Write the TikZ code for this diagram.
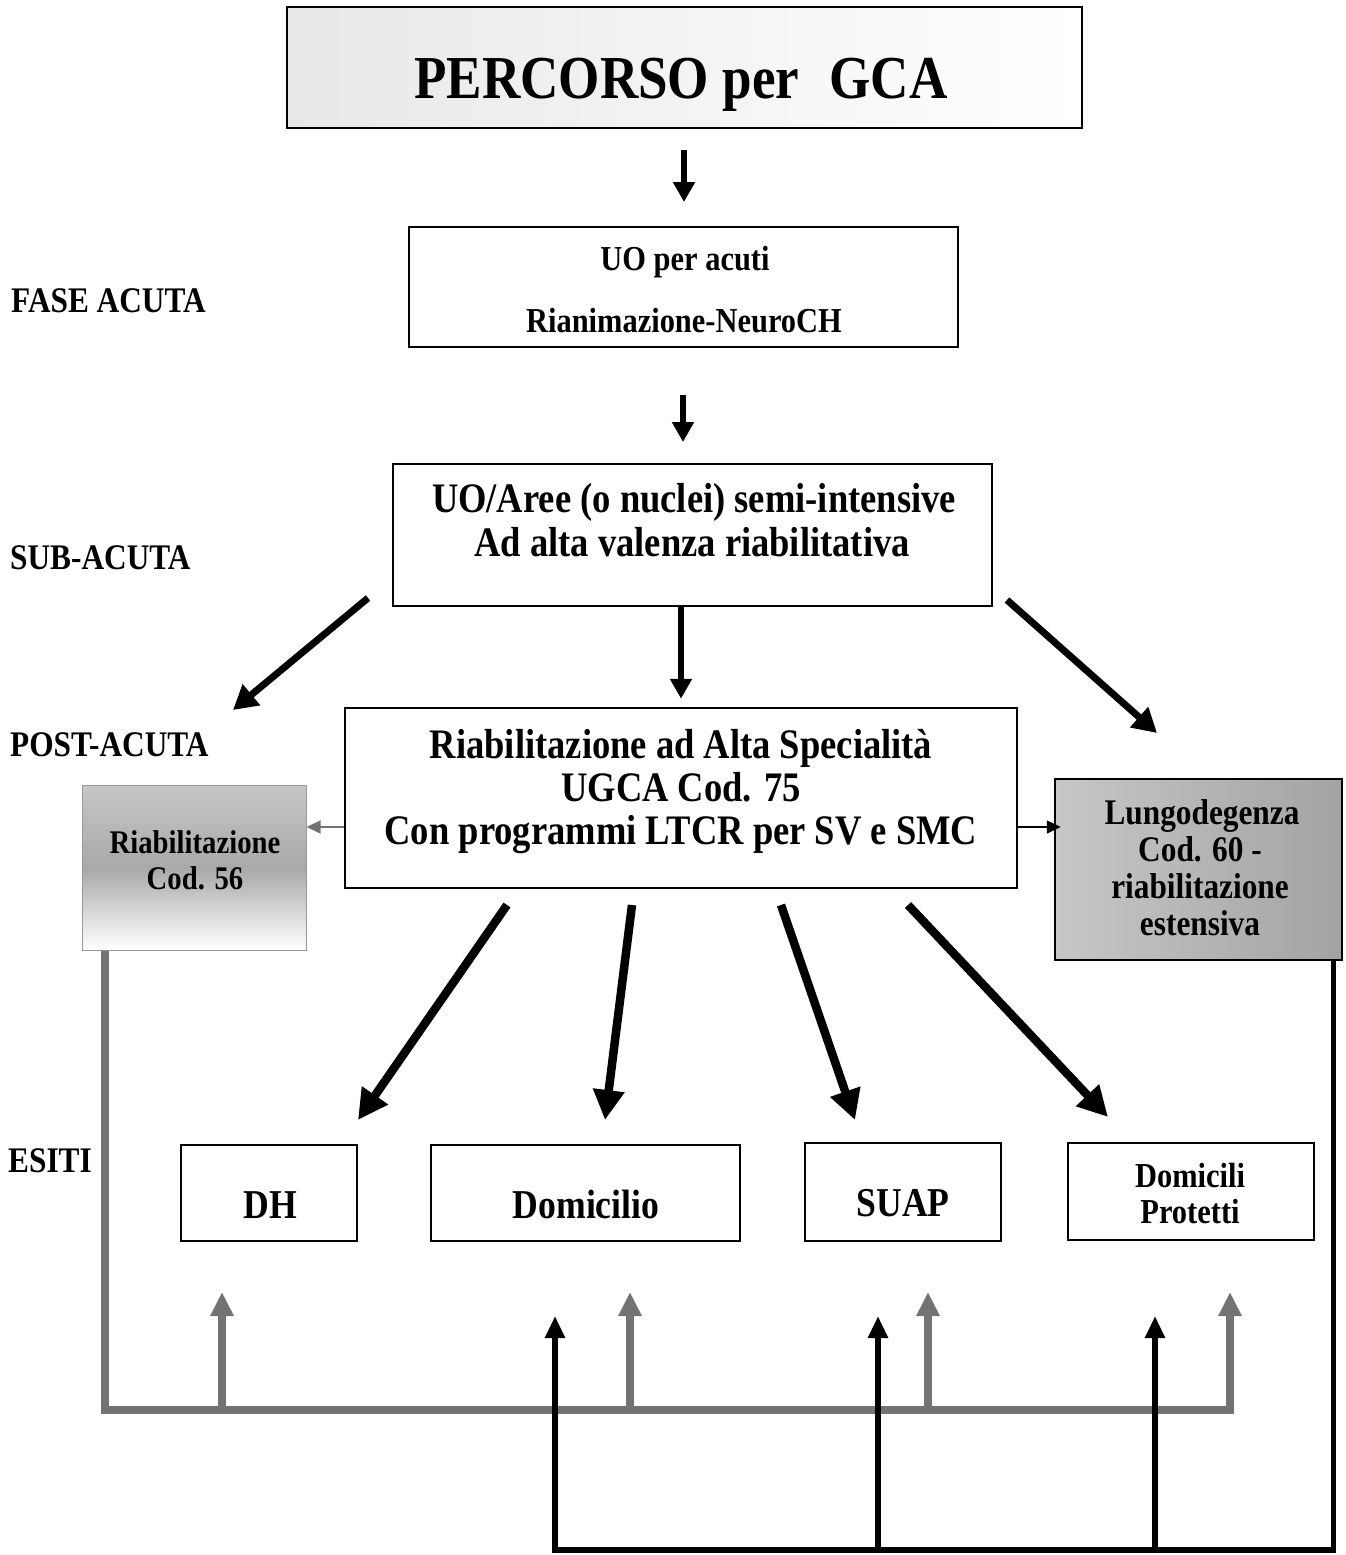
\documentclass[tikz,border=0pt]{standalone}
\usepackage{fontspec}
\setmainfont[FakeStretch=0.87]{Liberation Serif}
\usetikzlibrary{arrows.meta}
\tikzset{
  box/.style={draw=black, line width=2.5pt, fill=white, inner sep=0pt},
  txt/.style={anchor=base, inner sep=0pt, font=\fontsize{#1}{#1}\selectfont\bfseries},
  toparrow/.style={line width=6pt, -{Triangle[length=20pt,width=21pt]}},
  diagarrow/.style={line width=7pt, -{Triangle[length=24pt,width=26pt]}},
  esitoarrow/.style={line width=8.5pt, -{Triangle[length=30pt,width=30pt]}},
  thinarrow/.style={line width=1.5pt, -{Triangle[length=14pt,width=13pt]}},
  gline/.style={draw=black!55, line width=8pt},
  gtip/.style={gline, -{Triangle[length=24pt,width=22pt]}},
  bline/.style={draw=black, line width=5.5pt},
  btip/.style={bline, -{Triangle[length=22pt,width=19pt]}},
}
\begin{document}
\begin{tikzpicture}[x=1pt,y=-1pt]
\useasboundingbox (0,0) rectangle (1346,1555);

% ---- boxes ----
\node[box, line width=2pt, left color=black!9, right color=white, minimum width=795, minimum height=121] (title) at (684.5,67.5) {};
\node[box, minimum width=549, minimum height=120] (uo) at (683.5,287) {};
\node[box, minimum width=599, minimum height=142] (semi) at (692.5,535) {};
\node[box, minimum width=672, minimum height=180] (ria) at (681,798) {};
\node[box, draw=black!40, line width=1pt, top color=black!22, bottom color=white, middle color=black!34, minimum width=224, minimum height=165] (cod) at (194,867.5) {};
\node[box, left color=black!22, right color=black!36, minimum width=287, minimum height=181] (lungo) at (1198.5,869.5) {};
\node[box, minimum width=176, minimum height=96] (dh) at (269,1193) {};
\node[box, minimum width=309, minimum height=96] (dom) at (585.5,1193) {};
\node[box, minimum width=196, minimum height=98] (suap) at (903,1192) {};
\node[box, minimum width=246, minimum height=97] (dp) at (1191,1191.5) {};

% ---- texts ----
\node[txt=61] (t-title) at (681,98) {PERCORSO per\hspace{0.5em}GCA};
\node[txt=35] (t-uo1) at (685,270) {UO per acuti};
\node[txt=35] (t-uo2) at (684,332) {Rianimazione-NeuroCH};
\node[txt=42] (t-semi1) at (694,512) {UO/Aree (o nuclei) semi-intensive};
\node[txt=42] (t-semi2) at (692,556) {Ad alta valenza riabilitativa};
\node[txt=42] (t-ria1) at (681,758) {Riabilitazione ad Alta Specialità};
\node[txt=42] (t-ria2) at (681,801) {UGCA Cod. 75};
\node[txt=42] (t-ria3) at (681,844) {Con programmi LTCR per SV e SMC};
\node[txt=33] (t-cod1) at (195,853) {Riabilitazione};
\node[txt=33] (t-cod2) at (195,889) {Cod. 56};
\node[txt=36] (t-lu1) at (1202,824) {Lungodegenza};
\node[txt=36] (t-lu2) at (1200,861) {Cod. 60 -};
\node[txt=36] (t-lu3) at (1200,898) {riabilitazione};
\node[txt=36] (t-lu4) at (1200,935) {estensiva};
\node[txt=41] (t-dh) at (270,1218) {DH};
\node[txt=41] (t-dom) at (586,1218) {Domicilio};
\node[txt=41] (t-suap) at (903,1216) {SUAP};
\node[txt=35] (t-dp1) at (1190,1187) {Domicili};
\node[txt=35] (t-dp2) at (1190,1223) {Protetti};

% ---- phase labels ----
\node[txt=36, anchor=base west] (l-acuta) at (11,312) {FASE ACUTA};
\node[txt=36, anchor=base west] (l-sub) at (10,569) {SUB-ACUTA};
\node[txt=36, anchor=base west] (l-post) at (10,756) {POST-ACUTA};
\node[txt=36, anchor=base west] (l-esiti) at (8,1172) {ESITI};

% ---- free ends ----
\coordinate (a1s) at (684,150);  \coordinate (a1e) at (684,202);
\coordinate (a2s) at (683,395);  \coordinate (a2e) at (683,442);
\coordinate (dls) at (368,598);  \coordinate (dle) at (233,710);
\coordinate (drs) at (1007,600); \coordinate (dre) at (1157,733);
\coordinate (e1s) at (507,905);  \coordinate (e1) at (358,1120);
\coordinate (e2s) at (632,905);  \coordinate (e2) at (605,1120);
\coordinate (e3s) at (781,905);  \coordinate (e3) at (855,1120);
\coordinate (e4s) at (908,905);  \coordinate (e4) at (1108,1117);
\coordinate (gbus) at (0,1410);
\coordinate (gA) at (222,1292); \coordinate (gB) at (630,1292);
\coordinate (gC) at (928,1292); \coordinate (gD) at (1230,1292);
\coordinate (bbus) at (0,1550);
\coordinate (bA) at (555,1316); \coordinate (bB) at (878,1316);
\coordinate (bC) at (1155,1316);

% ---- arrows ----
\draw[toparrow] (a1s) -- (a1e);
\draw[toparrow] (a2s) -- (a2e);
\draw[toparrow] (semi.south -| ria.north) -- ([yshift=8pt]ria.north);
\draw[diagarrow] (dls) -- (dle);
\draw[diagarrow] (drs) -- (dre);
\draw[thinarrow, draw=black!55, fill=black!55] ([yshift=-29pt]ria.west) -- ([yshift=-29pt]ria.west -| cod.east);
\draw[thinarrow] ([yshift=-29pt]ria.east) -- ([xshift=7pt,yshift=-29pt]ria.east -| lungo.west);
\draw[esitoarrow] (e1s) -- (e1);
\draw[esitoarrow] (e2s) -- (e2);
\draw[esitoarrow] (e3s) -- (e3);
\draw[esitoarrow] (e4s) -- (e4);

% ---- return lines ----
\draw[gtip] ([xshift=23pt]cod.south west) |- (gD |- gbus) -- (gD);
\draw[gtip] (gA |- gbus) -- (gA);
\draw[gtip] (gB |- gbus) -- (gB);
\draw[gtip] (gC |- gbus) -- (gC);
\draw[btip] ([xshift=-10pt]lungo.south east) |- (bA |- bbus) -- (bA);
\draw[btip] (bB |- bbus) -- (bB);
\draw[btip] (bC |- bbus) -- (bC);
\end{tikzpicture}
\end{document}
